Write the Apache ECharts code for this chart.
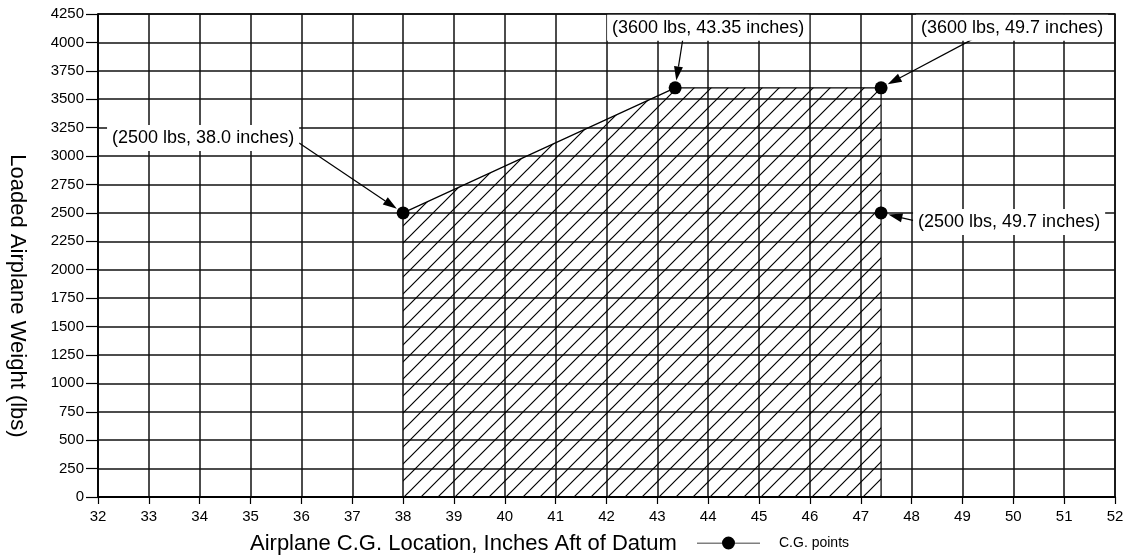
<!DOCTYPE html>
<html>
<head>
<meta charset="utf-8">
<script src="https://cdn.jsdelivr.net/npm/echarts@6/dist/echarts.min.js"></script>
<style>
  html, body { margin: 0; padding: 0; background: #fff; }
  #chart { width: 1127px; height: 557px; }
</style>
</head>
<body>
<div id="chart"></div>
<script>
// ---- Data ----
const xTicks = [32, 33, 34, 35, 36, 37, 38, 39, 40, 41, 42, 43, 44, 45, 46, 47, 48, 49, 50, 51, 52];
const yTicks = [0, 250, 500, 750, 1000, 1250, 1500, 1750, 2000, 2250, 2500, 2750, 3000, 3250, 3500, 3750, 4000, 4250];
// Envelope boundary (area under it is hatched)
const envelopeX = [38, 43.35, 47.4, 47.4];
const envelopeY = [2500, 3600, 3600, 0];
// C.G. points
const cgX = [38, 43.35, 47.4, 47.4];
const cgY = [2500, 3600, 3600, 2500];
const cgLabels = [
  '(2500 lbs, 38.0 inches)',
  '(3600 lbs, 43.35 inches)',
  '(3600 lbs, 49.7 inches)',
  '(2500 lbs, 49.7 inches)'
];
const seriesName = 'C.G. points';
const xTitle = 'Airplane C.G. Location, Inches Aft of Datum';
const yTitle = 'Loaded Airplane Weight (lbs)';

// ---- Layout (pixel offsets of annotation text / arrow tails from their points) ----
const labelOffsets = [[-200, -75], [33, -60], [131, -60], [128, 9]];
const arrowTailOffsets = [[-104, -70], [8, -51], [96, -51], [34, 8]];

const FONT = '"Liberation Sans", Arial, Helvetica, sans-serif';

function hatchPattern() {
  const s = 17;
  const c = document.createElement('canvas');
  c.width = s; c.height = s;
  const g = c.getContext('2d');
  g.strokeStyle = '#000';
  g.lineWidth = 1.2;
  g.beginPath();
  g.moveTo(-2, s + 2); g.lineTo(s + 2, -2);
  g.moveTo(-2, 2); g.lineTo(2, -2);
  g.moveTo(s - 2, s + 2); g.lineTo(s + 2, s - 2);
  g.stroke();
  return c;
}

const envelopeData = envelopeX.map((x, i) => [x, envelopeY[i]]);
const cgData = cgX.map((x, i) => [x, cgY[i]]);

const chart = echarts.init(document.getElementById('chart'), null, { renderer: 'canvas' });

const gridLine = { show: true, lineStyle: { color: '#111', width: 1.5 } };
// legend icon: thin line with a dot in the middle
const legendIcon = 'path://M0,6.2 L63,6.2 L63,7 L0,7 Z M31.5,0 A6.5,6.5 0 1 1 31.49,0 Z';

chart.setOption({
  animation: false,
  backgroundColor: '#fff',
  grid: { left: 98, right: 12, top: 14, bottom: 60, show: true, borderColor: '#000', borderWidth: 1.5 },
  xAxis: {
    type: 'value', min: xTicks[0], max: xTicks[xTicks.length - 1], interval: 1,
    axisLine: { show: true, onZero: false, lineStyle: { color: '#000', width: 2 } },
    axisTick: { show: true, length: 7, lineStyle: { color: '#000', width: 1.2 } },
    axisLabel: { color: '#000', fontFamily: FONT, fontSize: 15, margin: 12, formatter: v => String(v) },
    splitLine: gridLine
  },
  yAxis: {
    type: 'value', min: yTicks[0], max: yTicks[yTicks.length - 1], interval: 250,
    axisLine: { show: true, onZero: false, lineStyle: { color: '#000', width: 1.5 } },
    axisTick: { show: true, length: 12, lineStyle: { color: '#000', width: 1.2 } },
    axisLabel: { color: '#000', fontFamily: FONT, fontSize: 15, margin: 14, formatter: v => String(v) },
    splitLine: gridLine
  },
  legend: {
    show: true,
    left: 692, top: 531,
    itemWidth: 63, itemHeight: 13,
    data: [{ name: seriesName, icon: legendIcon }],
    itemStyle: { color: '#000' },
    textStyle: { color: '#000', fontFamily: FONT, fontSize: 14, padding: [0, 0, 0, 14] }
  },
  series: [
    {
      type: 'line',
      name: 'envelope',
      data: envelopeData,
      showSymbol: false,
      symbol: 'none',
      lineStyle: { color: '#000', width: 1.2 },
      areaStyle: { color: { image: hatchPattern(), repeat: 'repeat' }, opacity: 1 },
      z: 2,
      silent: true
    },
    {
      type: 'line',
      name: seriesName,
      data: cgData,
      symbol: 'circle',
      symbolSize: 13,
      showSymbol: true,
      itemStyle: { color: '#000' },
      lineStyle: { color: '#000', width: 0, opacity: 0 },
      z: 5
    }
  ]
});

// ---- Annotations (placed relative to data points via the chart's own scales) ----
function buildAnnotations() {
  const els = [];
  cgData.forEach((pt, i) => {
    const p = chart.convertToPixel({ gridIndex: 0 }, pt);
    const lo = labelOffsets[i], ao = arrowTailOffsets[i];
    const tx = p[0] + ao[0], ty = p[1] + ao[1];
    const dx = p[0] - tx, dy = p[1] - ty;
    const len = Math.sqrt(dx * dx + dy * dy);
    const ux = dx / len, uy = dy / len;
    const tipX = p[0] - ux * 7.5, tipY = p[1] - uy * 7.5;
    const headL = 14, headW = 4.5;
    const bx = tipX - ux * headL, by = tipY - uy * headL;
    els.push({
      type: 'line', z: 100,
      shape: { x1: tx, y1: ty, x2: bx, y2: by },
      style: { stroke: '#000', lineWidth: 1.2 }
    });
    els.push({
      type: 'polygon', z: 100,
      shape: { points: [[tipX, tipY], [bx - uy * headW, by + ux * headW], [bx + uy * headW, by - ux * headW]] },
      style: { fill: '#000' }
    });
    els.push({
      type: 'text', z: 101,
      x: p[0] + lo[0], y: p[1] + lo[1],
      style: {
        text: cgLabels[i], fill: '#000', font: '18px ' + FONT,
        align: 'center', verticalAlign: 'middle',
        backgroundColor: '#fff', padding: [4, 5]
      }
    });
  });
  els.push({
    type: 'text', x: 250, y: 544,
    style: { text: xTitle, fill: '#000', font: '22px ' + FONT, align: 'left', verticalAlign: 'middle' }
  });
  els.push({
    type: 'text', x: 17, y: 296, rotation: -Math.PI / 2,
    style: { text: yTitle, fill: '#000', font: '22px ' + FONT, align: 'center', verticalAlign: 'middle' }
  });
  chart.setOption({ graphic: { elements: els } });
}
buildAnnotations();
</script>
</body>
</html>
